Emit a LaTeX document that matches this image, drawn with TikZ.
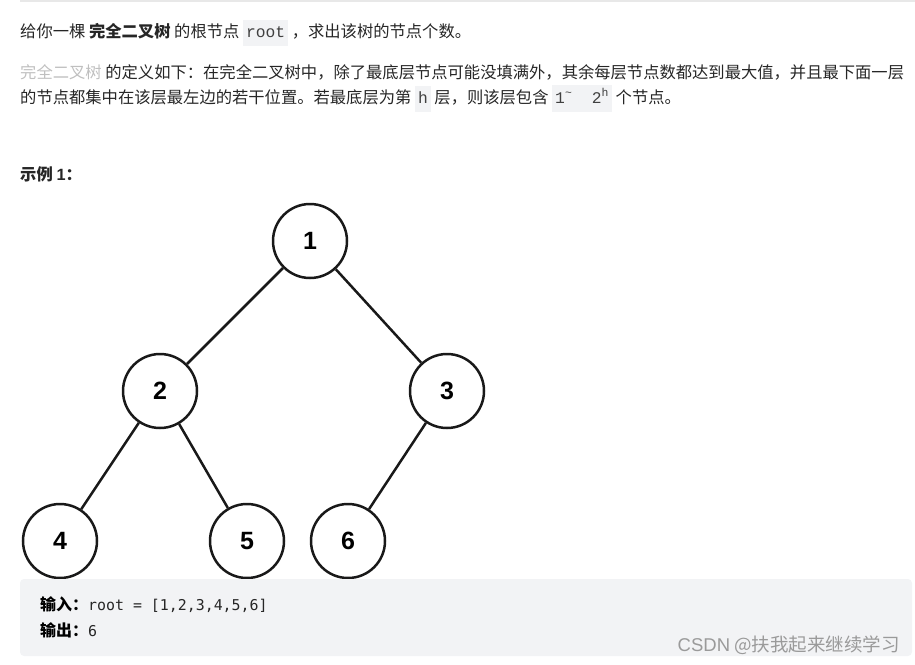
\documentclass[tikz,border=0pt]{standalone}
\usepackage{fontspec}
\setmainfont{Noto Sans CJK SC}
\newfontfamily\codefont{Liberation Mono}
\newfontfamily\blockfont{DejaVu Sans Mono}
\newfontfamily\numfont{Liberation Sans}
\definecolor{textfg}{HTML}{262626}
\definecolor{lightfg}{HTML}{BFBFBF}
\definecolor{codebg}{HTML}{F2F3F5}
\definecolor{codefg}{HTML}{404040}
\definecolor{markfg}{HTML}{9A9A9A}
\newcommand{\inlinecode}[1]{{\setlength{\fboxsep}{3pt}\colorbox{codebg}{\codefont\color{codefg}\strut#1}}}
\tikzset{
  para/.style={anchor=base west, inner sep=0pt, text=textfg, font=\fontsize{16.3}{20}\selectfont},
  tnode/.style={circle, draw=black!90, line width=2.5pt, minimum size=74pt, inner sep=0pt, font=\numfont\bfseries\fontsize{25}{25}\selectfont},
  blockline/.style={anchor=base west, inner sep=0pt, text=black, font=\fontsize{16}{18}\selectfont}
}
\begin{document}
\begin{tikzpicture}[x=1pt, y=-1pt]
\useasboundingbox (0,0) rectangle (915,664);
\draw[line width=1.5pt, black!9] (20,1) -- (915,1);

% text above the example
\node[para] (lineA) at (20,37) {给你一棵 \textbf{完全二叉树} 的根节点 \inlinecode{root} ，求出该树的节点个数。};
\node[para] (lineB) at (20,78) {\textcolor{lightfg}{完全二叉树} 的定义如下：在完全二叉树中，除了最底层节点可能没填满外，其余每层节点数都达到最大值，并且最下面一层};
\node[para] (lineC) at (20,103) {的节点都集中在该层最左边的若干位置。若最底层为第 \inlinecode{h} 层，则该层包含 \inlinecode{1\textsuperscript{\char`\~}\ \ 2\textsuperscript{h}} 个节点。};
\node[para] (example) at (20,180) {\textbf{示例 {\numfont 1}：}};

% the tree
\node[tnode] (n1) at (310,241) {1};
\node[tnode] (n2) at (160,391) {2};
\node[tnode] (n3) at (447,391) {3};
\node[tnode] (n4) at (60,541) {4};
\node[tnode] (n5) at (247,541) {5};
\node[tnode] (n6) at (348,541) {6};

\foreach \from/\to in {n1/n2,n1/n3,n2/n4,n2/n5,n3/n6}
\draw[line width=2.5pt, black!90] (\from) -- (\to);

% input / output block
\fill[codebg, rounded corners=4pt] (20,579) rectangle (912,656);
\node[blockline] (input) at (40,610) {\textbf{输入：}{\blockfont\color{textfg}\fontsize{14.9}{18}\selectfont root = [1,2,3,4,5,6]}};
\node[blockline] (output) at (40,636) {\textbf{输出：}{\blockfont\color{textfg}\fontsize{14.9}{18}\selectfont 6}};
\node[anchor=base east, inner sep=0pt, text=markfg, font=\fontsize{18.5}{20}\selectfont] (mark) at (900,651) {{\numfont CSDN} @扶我起来继续学习};
\end{tikzpicture}
\end{document}
